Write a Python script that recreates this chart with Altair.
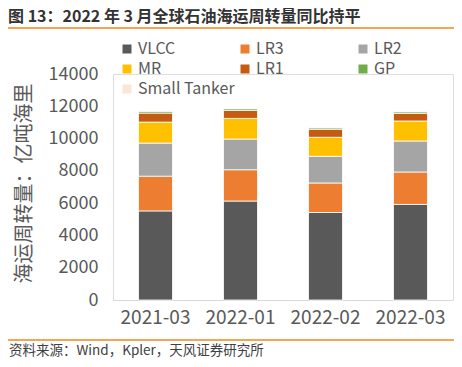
import altair as alt
import pandas as pd

categories = ["2021-03", "2022-01", "2022-02", "2022-03"]
series = ["VLCC", "LR3", "LR2", "MR", "LR1", "GP", "Small Tanker"]
colors = ["#595959", "#ED7D31", "#A5A5A5", "#FFC000", "#C55A11", "#70AD47", "#FBE5D6"]

vlcc = [5520, 6130, 5420, 5920]
lr3 = [2150, 1940, 1830, 2010]
lr2 = [2050, 1900, 1650, 1920]
mr = [1300, 1280, 1180, 1240]
lr1 = [560, 500, 500, 470]
gp = [110, 100, 90, 100]
small = [50, 40, 40, 40]

title_text = "图 13：2022 年 3 月全球石油海运周转量同比持平"
source_text = "资料来源：Wind，Kpler，天风证券研究所"
y_title = "海运周转量：亿吨海里"

rows = []
for name, vals in zip(series, [vlcc, lr3, lr2, mr, lr1, gp, small]):
    for c, v in zip(categories, vals):
        rows.append({"month": c, "type": name, "value": v, "rank": series.index(name)})
df = pd.DataFrame(rows)

FONT = "Noto Sans CJK SC"
GRAY = "#595959"

bars = alt.Chart(df).mark_bar(stroke="#ffffff", strokeWidth=0.8).encode(
    x=alt.X("month:N", sort=categories, title=None,
            scale=alt.Scale(paddingInner=0.6, paddingOuter=0.3),
            axis=alt.Axis(labelAngle=0, labelFontSize=19, labelColor=GRAY, labelFont=FONT,
                          ticks=False, domainColor="#d9d9d9", domainWidth=1, labelPadding=8)),
    y=alt.Y("value:Q", stack="zero", title=y_title,
            scale=alt.Scale(domain=[0, 14000], nice=False),
            axis=alt.Axis(values=list(range(0, 14001, 2000)), format="d", grid=False, domain=False, ticks=False,
                          labelFontSize=18, labelColor=GRAY, labelFont=FONT, labelPadding=15,
                          titleFont=FONT, titleFontSize=20, titleColor=GRAY, titleFontWeight="normal",
                          titleX=-89, titleY=109, titleAlign="center", titleBaseline="middle")),
    color=alt.Color("type:N", sort=series,
                    scale=alt.Scale(domain=series, range=colors),
                    legend=alt.Legend(orient="none", legendX=6, legendY=-33, direction="horizontal",
                                      columns=3, gridAlign="all", columnPadding=2, rowPadding=4,
                                      symbolType="square", symbolSize=81, symbolStrokeWidth=0,
                                      labelFont=FONT, labelFontSize=16, labelColor=GRAY,
                                      labelOffset=3, title=None)),
    order=alt.Order("rank:Q", sort="ascending"),
)

title = alt.Chart(pd.DataFrame({"t": [title_text]})).mark_text(
    font=FONT, fontSize=16, fontWeight="bold", color="#333333", align="left", baseline="middle"
).encode(x=alt.value(-105), y=alt.value(-57), text="t:N")

top_line = alt.Chart(pd.DataFrame({"a": [0]})).mark_rule(color="#F0871C", strokeWidth=1.5).encode(
    x=alt.value(-105), x2=alt.value(341), y=alt.value(-46))

bottom_line = alt.Chart(pd.DataFrame({"a": [0]})).mark_rule(color="#F0871C", strokeWidth=1.5).encode(
    x=alt.value(-105), x2=alt.value(341), y=alt.value(266))

source = alt.Chart(pd.DataFrame({"t": [source_text]})).mark_text(
    font=FONT, fontSize=13.5, color="#404040", align="left", baseline="middle"
).encode(x=alt.value(-104), y=alt.value(277), text="t:N")

chart = alt.layer(bars, title, top_line, bottom_line, source).properties(
    width=340, height=226,
    autosize=alt.AutoSizeParams(type="none"),
    padding={"left": 105, "top": 66, "right": 1, "bottom": 59},
).configure_view(stroke=None).configure(background="#ffffff")

chart.save("out.html", embed_options={"renderer": "svg", "actions": False})
